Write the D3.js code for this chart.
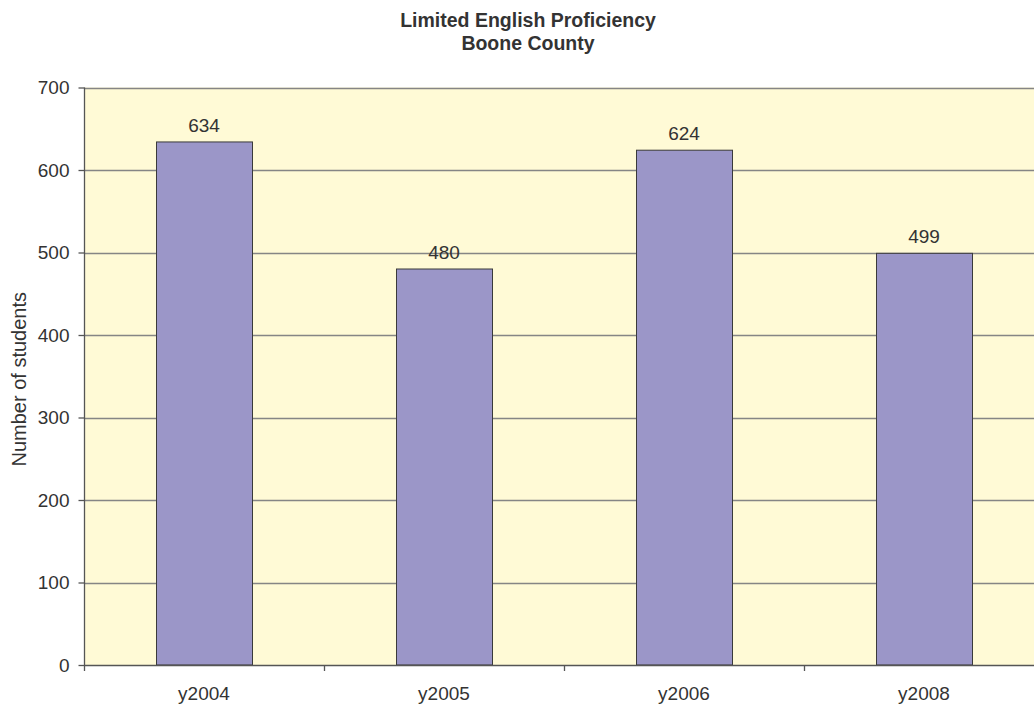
<!DOCTYPE html>
<html><head><meta charset="utf-8">
<script src="https://cdn.jsdelivr.net/npm/d3@7"></script>
<style>body{margin:0;background:#fff;}svg{display:block;font-family:"Liberation Sans",Arial,sans-serif;}</style>
</head><body><svg id="c" width="1034" height="704"></svg>
<script>
const categories = ["y2004", "y2005", "y2006", "y2008"];
const values = [634, 480, 624, 499];
const yTicks = [0, 100, 200, 300, 400, 500, 600, 700];
const titleLines = ["Limited English Proficiency", "Boone County"];
const yLabel = "Number of students";

const svg = d3.select("#c");
const L = 84, R = 1044, T = 87.5, B = 665;
const FS = 19;
const x = d3.scaleBand().domain(categories).range([L, R]).paddingInner(0.6).paddingOuter(0.3);
const xb = d3.scaleBand().domain(categories).range([L, R]);
const y = d3.scaleLinear().domain([0, 700]).range([B, T]);
const txt = "#333";

svg.append("rect").attr("x", L).attr("y", T).attr("width", R - L).attr("height", B - T).attr("fill", "#fffad6");

svg.append("g").selectAll("line").data(yTicks.filter(d => d > 0)).join("line")
  .attr("x1", L).attr("x2", R).attr("y1", d => Math.round(y(d)) + 0.5).attr("y2", d => Math.round(y(d)) + 0.5)
  .attr("stroke", "#858585").attr("stroke-width", 1.3);

svg.append("g").selectAll("rect").data(values).join("rect")
  .attr("x", (d, i) => x(categories[i]) + 0.5).attr("width", x.bandwidth())
  .attr("y", d => y(d)).attr("height", d => B - y(d))
  .attr("fill", "#9b96c8").attr("stroke", "#3a3a3a").attr("stroke-width", 1);

svg.append("g").selectAll("text").data(values).join("text")
  .attr("x", (d, i) => x(categories[i]) + x.bandwidth() / 2).attr("y", d => y(d) - 10)
  .attr("text-anchor", "middle").attr("font-size", FS).attr("fill", txt).text(d => d);

// y axis
const ya = svg.append("g").attr("transform", `translate(${L + 0.5},0)`)
  .call(d3.axisLeft(y).tickValues(yTicks).tickSize(6).tickPadding(9));
ya.select(".domain").attr("stroke", "#555").attr("stroke-width", 1.3).attr("d", `M0,${T}V${B}`);
ya.selectAll(".tick line").attr("stroke", "#555").attr("stroke-width", 1.3);
ya.selectAll(".tick text").attr("font-size", FS).attr("fill", txt).attr("font-family", "Liberation Sans, Arial, sans-serif");

// x axis
const xa = svg.append("g").attr("transform", `translate(0,${B + 0.5})`)
  .call(d3.axisBottom(x).tickSize(0).tickPadding(21));
xa.select(".domain").attr("stroke", "#555").attr("stroke-width", 1.5).attr("d", `M${L},0H${R}`);
xa.selectAll(".tick text").attr("font-size", FS).attr("fill", txt).attr("font-family", "Liberation Sans, Arial, sans-serif");
svg.append("g").selectAll("line").data(categories).join("line")
  .attr("x1", d => xb(d) + 0.5).attr("x2", d => xb(d) + 0.5)
  .attr("y1", B).attr("y2", B + 6).attr("stroke", "#555").attr("stroke-width", 1.3);

// y label
svg.append("text").attr("transform", `translate(26,${(T + B) / 2 + 3}) rotate(-90)`)
  .attr("text-anchor", "middle").attr("font-size", 20).attr("fill", txt).text(yLabel);

// title
svg.append("g").selectAll("text").data(titleLines).join("text")
  .attr("x", 528).attr("y", (d, i) => 27 + i * 23)
  .attr("text-anchor", "middle").attr("font-size", 19.5).attr("font-weight", "bold").attr("fill", txt).text(d => d);
</script></body></html>
